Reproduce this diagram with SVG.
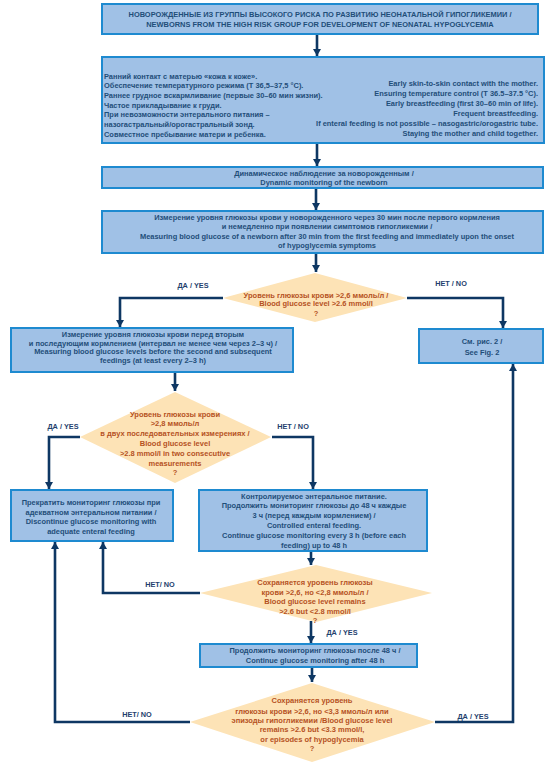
<svg xmlns="http://www.w3.org/2000/svg" width="556" height="768" viewBox="0 0 556 768">
<style>
.box{fill:#a0c1e6;stroke:#1e8ad0;stroke-width:2}
.dia{fill:#fde3b6}
.t{font-family:"Liberation Sans",Arial,sans-serif;font-weight:bold;font-size:7.45px;fill:#1f4e79}
.d{font-family:"Liberation Sans",Arial,sans-serif;font-weight:bold;font-size:7.5px;fill:#b5521f}
.l{font-family:"Liberation Sans",Arial,sans-serif;font-weight:bold;font-size:7.3px;fill:#1f3f6e}
.c{fill:none;stroke:#0e3763;stroke-width:2.6}
.m{text-anchor:middle}
.e{text-anchor:end}
</style>
<defs>
<marker id="ah" markerUnits="userSpaceOnUse" markerWidth="9" markerHeight="9" refX="7" refY="4" orient="auto">
<path d="M0,0 L7,4 L0,8 z" fill="#0e3763"/>
</marker>
</defs>
<rect width="556" height="768" fill="#ffffff"/>

<g id="connectors">
<path class="c" marker-end="url(#ah)" d="M317,34 V56"/>
<path class="c" marker-end="url(#ah)" d="M317,144 V166"/>
<path class="c" marker-end="url(#ah)" d="M316,189 V210"/>
<path class="c" marker-end="url(#ah)" d="M316,254 V272"/>
<path class="c" marker-end="url(#ah)" d="M223,298 H120 V327"/>
<path class="c" marker-end="url(#ah)" d="M407,298 H503 V328"/>
<path class="c" marker-end="url(#ah)" d="M175,373 V391"/>
<path class="c" marker-end="url(#ah)" d="M80,437 H49 V489"/>
<path class="c" marker-end="url(#ah)" d="M272,437 H313 V489"/>
<path class="c" marker-end="url(#ah)" d="M311,552 V565"/>
<path class="c" marker-end="url(#ah)" d="M200,593 H103 V542"/>
<path class="c" marker-end="url(#ah)" d="M311,621 V643"/>
<path class="c" marker-end="url(#ah)" d="M312,668 V682"/>
<path class="c" marker-end="url(#ah)" d="M190,722 H55 V542"/>
<path class="c" marker-end="url(#ah)" d="M435,722 H513 V364"/>
<text class="l m" x="193" y="288">ДА / YES</text>
<text class="l m" x="451" y="286">НЕТ / NO</text>
<text class="l m" x="63" y="429">ДА / YES</text>
<text class="l m" x="293" y="429">НЕТ / NO</text>
<text class="l m" x="160" y="587">НЕТ/ NO</text>
<text class="l m" x="342" y="635">ДА / YES</text>
<text class="l m" x="137" y="717">НЕТ/ NO</text>
<text class="l m" x="473" y="719">ДА / YES</text>
</g>

<g id="n1">
<rect class="box" x="102" y="4" width="436" height="30"/>
<text class="t m" x="320" y="17">НОВОРОЖДЕННЫЕ ИЗ ГРУППЫ ВЫСОКОГО РИСКА ПО РАЗВИТИЮ НЕОНАТАЛЬНОЙ ГИПОГЛИКЕМИИ /</text>
<text class="t m" x="320" y="27">NEWBORNS FROM THE HIGH RISK GROUP FOR DEVELOPMENT OF NEONATAL HYPOGLYCEMIA</text>
</g>

<g id="n2">
<rect class="box" x="102" y="57" width="442" height="86"/>
<text class="t" x="104" y="78.5">Ранний контакт с матерью «кожа к коже».</text>
<text class="t" x="104" y="88.2">Обеспечение температурного режима (Т 36,5–37,5 °С).</text>
<text class="t" x="104" y="97.9">Раннее грудное вскармливание (первые 30–60 мин жизни).</text>
<text class="t" x="104" y="107.6">Частое прикладывание к груди.</text>
<text class="t" x="104" y="117.3">При невозможности энтерального питания –</text>
<text class="t" x="104" y="127">назогастральный/орогастральный зонд.</text>
<text class="t" x="104" y="136.7">Совместное пребывание матери и ребенка.</text>
<text class="t e" x="538" y="86">Early skin-to-skin contact with the mother.</text>
<text class="t e" x="538" y="96">Ensuring temperature control (T 36.5–37.5 °C).</text>
<text class="t e" x="538" y="106">Early breastfeeding (first 30–60 min of life).</text>
<text class="t e" x="538" y="116">Frequent breastfeeding.</text>
<text class="t e" x="538" y="126">If enteral feeding is not possible – nasogastric/orogastric tube.</text>
<text class="t e" x="538" y="136">Staying the mother and child together.</text>
</g>

<g id="n3">
<rect class="box" x="102" y="167" width="441" height="21"/>
<text class="t m" x="324" y="175.5">Динамическое наблюдение за новорожденным /</text>
<text class="t m" x="324" y="184.5">Dynamic monitoring of the newborn</text>
</g>

<g id="n4">
<rect class="box" x="102" y="211" width="441" height="42"/>
<text class="t m" x="327" y="219.5">Измерение уровня глюкозы крови у новорожденного через 30 мин после первого кормления</text>
<text class="t m" x="327" y="229">и немедленно при появлении симптомов гипогликемии /</text>
<text class="t m" x="327" y="238.5">Measuring blood glucose of a newborn after 30 min from the first feeding and immediately upon the onset</text>
<text class="t m" x="327" y="248">of hypoglycemia symptoms</text>
</g>

<g id="d1">
<polygon class="dia" points="315,273 407,298 315,322 223,298"/>
<text class="d m" x="316" y="297.5">Уровень глюкозы крови &gt;2,6 ммоль/л /</text>
<text class="d m" x="316" y="306">Blood glucose level &gt;2.6 mmol/l</text>
<text class="d m" x="316" y="315.5">?</text>
</g>

<g id="n5">
<rect class="box" x="11" y="328" width="282" height="44"/>
<text class="t m" x="153" y="337">Измерение уровня глюкозы крови перед вторым</text>
<text class="t m" x="153" y="345.5">и последующим кормлением  (интервал не менее чем через 2–3 ч) /</text>
<text class="t m" x="153" y="354">Measuring blood glucose levels before the second and subsequent</text>
<text class="t m" x="153" y="363">feedings (at least every 2–3 h)</text>
</g>

<g id="n6">
<rect class="box" x="419" y="329" width="124" height="34"/>
<text class="t m" x="482" y="343.5">См. рис. 2 /</text>
<text class="t m" x="482" y="354.5">See Fig. 2</text>
</g>

<g id="d2">
<polygon class="dia" points="175,392 271,437 175,483 80,437"/>
<text class="d m" x="175" y="416.5">Уровень глюкозы крови</text>
<text class="d m" x="175" y="426">&gt;2,8 ммоль/л</text>
<text class="d m" x="175" y="435.5">в двух последовательных измерениях /</text>
<text class="d m" x="175" y="445.5">Blood glucose level</text>
<text class="d m" x="175" y="455.5">&gt;2.8 mmol/l in two consecutive</text>
<text class="d m" x="175" y="465.5">measurements</text>
<text class="d m" x="175" y="474.5">?</text>
</g>

<g id="n7">
<rect class="box" x="11" y="490" width="162" height="51"/>
<text class="t m" x="91" y="504.5">Прекратить мониторинг глюкозы при</text>
<text class="t m" x="91" y="514.5">адекватном энтеральном питании /</text>
<text class="t m" x="91" y="523.5">Discontinue glucose monitoring with</text>
<text class="t m" x="91" y="533.5">adequate enteral feeding</text>
</g>

<g id="n8">
<rect class="box" x="199" y="490" width="228" height="61"/>
<text class="t m" x="314" y="498.5">Контролируемое энтеральное питание.</text>
<text class="t m" x="314" y="507.5">Продолжить мониторинг глюкозы до 48 ч каждые</text>
<text class="t m" x="314" y="517.5">3 ч (перед каждым кормлением) /</text>
<text class="t m" x="314" y="527.5">Controlled enteral feeding.</text>
<text class="t m" x="314" y="537.5">Continue glucose monitoring every 3 h (before each</text>
<text class="t m" x="314" y="547.5">feeding) up to 48 h</text>
</g>

<g id="d3">
<polygon class="dia" points="316,565 432,593 316,622 200,593"/>
<text class="d m" x="315" y="584.5">Сохраняется уровень глюкозы</text>
<text class="d m" x="315" y="594.5">крови &gt;2,6, но &lt;2,8 ммоль/л /</text>
<text class="d m" x="315" y="603.5">Blood glucose level remains</text>
<text class="d m" x="315" y="613.5">&gt;2.6 but &lt;2.8 mmol/l</text>
<text class="d m" x="315" y="622.5">?</text>
</g>

<g id="n9">
<rect class="box" x="200" y="644" width="217" height="23"/>
<text class="t m" x="315" y="653">Продолжить мониторинг глюкозы после 48 ч /</text>
<text class="t m" x="315" y="663">Continue glucose monitoring after 48 h</text>
</g>

<g id="d4">
<polygon class="dia" points="312,683 435,722 312,762 190,722"/>
<text class="d m" x="312" y="702.5">Сохраняется уровень</text>
<text class="d m" x="312" y="713.5">глюкозы крови &gt;2,6, но &lt;3,3 ммоль/л или</text>
<text class="d m" x="312" y="722.5">эпизоды гипогликемии /Blood glucose level</text>
<text class="d m" x="312" y="731.5">remains &gt;2.6 but &lt;3.3 mmol/l,</text>
<text class="d m" x="312" y="741.5">or episodes of hypoglycemia</text>
<text class="d m" x="312" y="750.5">?</text>
</g>
</svg>
